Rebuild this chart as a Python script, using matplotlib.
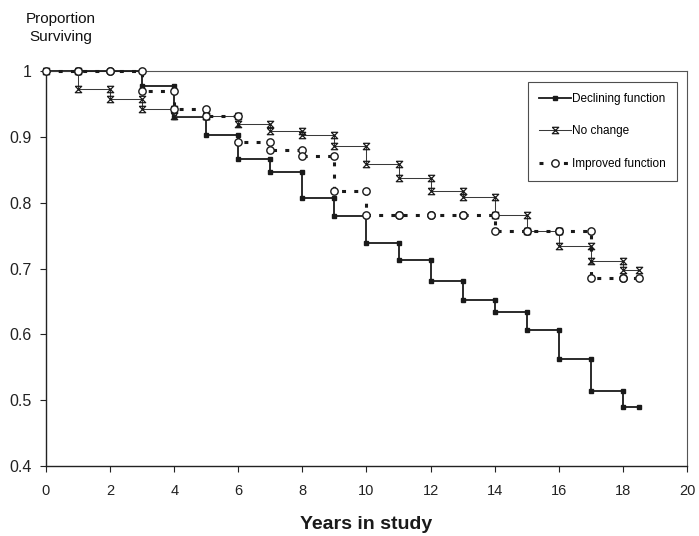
import matplotlib
matplotlib.use("Agg")
import matplotlib.pyplot as plt
from matplotlib.path import Path

plt.rcParams['font.family'] = ['Liberation Sans', 'DejaVu Sans']

# yearly life-table intervals: [0,1), [1,2), ... [17,18), [18,18.5)
years = [0, 1, 2, 3, 4, 5, 6, 7, 8, 9, 10, 11, 12, 13, 14, 15, 16, 17, 18, 18.5]
declining = [1.0, 1.0, 1.0, 0.977, 0.930, 0.903, 0.867, 0.847, 0.807, 0.780,
             0.739, 0.713, 0.681, 0.652, 0.634, 0.606, 0.562, 0.514, 0.489]
no_change = [1.0, 0.973, 0.957, 0.942, 0.932, 0.932, 0.919, 0.909, 0.903, 0.886,
             0.859, 0.838, 0.817, 0.809, 0.782, 0.757, 0.734, 0.712, 0.697]
improved = [1.0, 1.0, 1.0, 0.969, 0.942, 0.932, 0.892, 0.880, 0.871, 0.818,
            0.782, 0.782, 0.782, 0.782, 0.757, 0.757, 0.757, 0.686, 0.686]

x_ticks = [0, 2, 4, 6, 8, 10, 12, 14, 16, 18, 20]
y_ticks = [0.4, 0.5, 0.6, 0.7, 0.8, 0.9, 1.0]
y_labels = ["0.4", "0.5", "0.6", "0.7", "0.8", "0.9", "1"]


def step_path(edges, vals):
    xs, ys = [], []
    for i, v in enumerate(vals):
        xs += [edges[i], edges[i + 1]]
        ys += [v, v]
    return xs, ys


hourglass = Path([(-1, 1), (1, 1), (-1, -1), (1, -1), (-1, 1)],
                 [Path.MOVETO, Path.LINETO, Path.LINETO, Path.LINETO, Path.LINETO])

fig = plt.figure(figsize=(6.99, 5.36), dpi=100)
ax = fig.add_axes([0.0658, 0.1306, 0.917, 0.7369])

xs, ys = step_path(years, declining)
ax.plot(xs, ys, color='#1a1a1a', lw=1.3, marker='s', ms=2.6, mfc='#1a1a1a',
        mec='#1a1a1a', clip_on=False, zorder=3, label='Declining function')

xs, ys = step_path(years, no_change)
ax.plot(xs, ys, color='#3a3a3a', lw=0.75, marker=hourglass, ms=4.6, mfc='none',
        mec='#1a1a1a', mew=0.9, clip_on=False, zorder=4, label='No change')

xs, ys = step_path(years, improved)
ax.plot(xs, ys, color='#1a1a1a', lw=2.2, ls=(0, (1.3, 2.7)), marker='o', ms=5.3,
        mfc='white', mec='#1a1a1a', mew=1.0, clip_on=False, zorder=5,
        label='Improved function')

ax.set_xlim(0, 20)
ax.set_ylim(0.4, 1.0)
ax.set_xticks(x_ticks)
ax.set_yticks(y_ticks)
ax.set_yticklabels(y_labels)
ax.tick_params(axis='y', labelsize=11.5, length=4, width=0.8, pad=6, colors='#222222')
ax.tick_params(axis='x', labelsize=10.5, length=4, width=0.8, pad=9, colors='#222222')

for side in ['left', 'bottom']:
    ax.spines[side].set_color('#222222')
    ax.spines[side].set_linewidth(1.0)
for side in ['top', 'right']:
    ax.spines[side].set_color('#555555')
    ax.spines[side].set_linewidth(0.8)

leg = ax.legend(loc='upper right', bbox_to_anchor=(0.984, 0.972), fontsize=8.5,
                frameon=True, fancybox=False, edgecolor='#222222', labelspacing=1.75,
                handlelength=2.7, handletextpad=0.15, borderpad=0.9, borderaxespad=0,
                numpoints=1)
leg.get_frame().set_linewidth(0.8)

ax.set_xlabel("Years in study", fontsize=14, fontweight='bold', color='#1a1a1a', labelpad=13)
fig.text(61 / 699, 1 - 28 / 536, "Proportion\nSurviving", fontsize=11, ha='center',
         va='center', color='#111111', linespacing=1.3)

fig.savefig("out.png", dpi=100)
